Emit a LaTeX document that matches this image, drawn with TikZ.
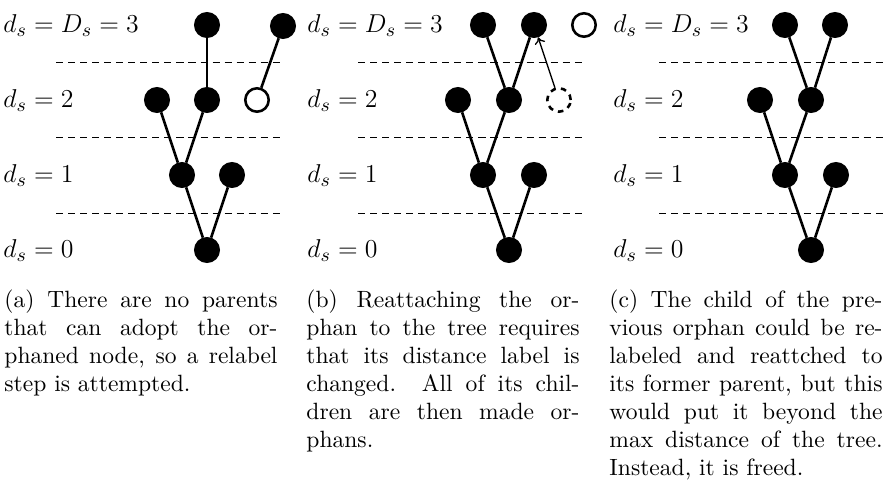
\documentclass[tikz,border=0pt]{standalone}
\usetikzlibrary{arrows.meta}
\begin{document}
\begin{tikzpicture}[x=0.465pt,y=-0.465pt,
  vtx/.style={circle,inner sep=0pt,minimum size=10.9pt,draw=black,fill=black,line width=1.2pt},
  orphan/.style={circle,inner sep=0pt,minimum size=10.9pt,draw=black,fill=white,line width=1.2pt},
  ghost/.style={circle,inner sep=0pt,minimum size=10.9pt,draw=black,line width=1.2pt,dash pattern=on 2.6pt off 2.4pt},
  treelink/.style={line width=1.2pt},
  levelline/.style={line width=0.45pt,dash pattern=on 3.3pt off 2.3pt},
  lbl/.style={anchor=base west,inner sep=0pt,font=\fontsize{13}{15}\selectfont},
  captext/.style={anchor=base west,inner sep=0pt,text width=127pt,align=justify,font=\fontsize{10.95}{13}\selectfont},
  movearrow/.style={line width=0.6pt,-{To[length=3pt,width=5pt]}}]
\useasboundingbox (0,0) rectangle (886,489);

% ---------- panel (a) ----------
\node[lbl] (la3) at (3,32.5) {$d_s=D_s=3$};
\node[lbl] (la2) at (3,107.5) {$d_s=2$};
\node[lbl] (la1) at (3,182.5) {$d_s=1$};
\node[lbl] (la0) at (3,257.5) {$d_s=0$};
\coordinate (ah1l) at (56,62); \coordinate (ah1r) at (283,62);
\coordinate (ah2l) at (56,137); \coordinate (ah2r) at (283,137);
\coordinate (ah3l) at (56,213); \coordinate (ah3r) at (283,213);
\draw[levelline] (ah1l) -- (ah1r);
\draw[levelline] (ah2l) -- (ah2r);
\draw[levelline] (ah3l) -- (ah3r);
\node[vtx] (a31) at (207,25) {};
\node[vtx] (a32) at (283,26) {};
\node[vtx] (a21) at (157,100) {};
\node[vtx] (a22) at (207,100) {};
\node[orphan] (a23) at (257,100) {};
\node[vtx] (a11) at (182,175) {};
\node[vtx] (a12) at (232,175) {};
\node[vtx] (a01) at (207,250) {};
\draw[treelink] (a31) -- (a22);
\draw[treelink] (a32) -- (a23);
\draw[treelink] (a21) -- (a11);
\draw[treelink] (a22) -- (a11);
\draw[treelink] (a11) -- (a01);
\draw[treelink] (a12) -- (a01);
\node[captext] (capa) at (4,308) {(a) There are no parents\linebreak that can adopt the or-\linebreak phaned node, so a relabel\linebreak step is attempted.};

% ---------- panel (b) ----------
\node[lbl] (lb3) at (307,32.5) {$d_s=D_s=3$};
\node[lbl] (lb2) at (307,107.5) {$d_s=2$};
\node[lbl] (lb1) at (307,182.5) {$d_s=1$};
\node[lbl] (lb0) at (307,257.5) {$d_s=0$};
\coordinate (bh1l) at (358,62); \coordinate (bh1r) at (584,62);
\coordinate (bh2l) at (358,137); \coordinate (bh2r) at (584,137);
\coordinate (bh3l) at (358,213); \coordinate (bh3r) at (584,213);
\draw[levelline] (bh1l) -- (bh1r);
\draw[levelline] (bh2l) -- (bh2r);
\draw[levelline] (bh3l) -- (bh3r);
\node[vtx] (b31) at (483,25) {};
\node[vtx] (b32) at (534,25) {};
\node[orphan] (b33) at (584,25) {};
\node[vtx] (b21) at (458,100) {};
\node[vtx] (b22) at (509,100) {};
\node[ghost] (b23) at (559,100) {};
\node[vtx] (b11) at (483,175) {};
\node[vtx] (b12) at (534,175) {};
\node[vtx] (b01) at (509,250) {};
\draw[treelink] (b31) -- (b22);
\draw[treelink] (b32) -- (b22);
\draw[treelink] (b21) -- (b11);
\draw[treelink] (b22) -- (b11);
\draw[treelink] (b11) -- (b01);
\draw[treelink] (b12) -- (b01);
\draw[movearrow] (b23) -- (b32);
\node[captext] (capb) at (306,308) {(b) Reattaching the or-\linebreak phan to the tree requires\linebreak that its distance label is\linebreak changed. All of its chil-\linebreak dren are then made or-\linebreak phans.};

% ---------- panel (c) ----------
\node[lbl] (lc3) at (613,32.5) {$d_s=D_s=3$};
\node[lbl] (lc2) at (613,107.5) {$d_s=2$};
\node[lbl] (lc1) at (613,182.5) {$d_s=1$};
\node[lbl] (lc0) at (613,257.5) {$d_s=0$};
\coordinate (ch1l) at (659,62); \coordinate (ch1r) at (886,62);
\coordinate (ch2l) at (659,137); \coordinate (ch2r) at (886,137);
\coordinate (ch3l) at (659,213); \coordinate (ch3r) at (886,213);
\draw[levelline] (ch1l) -- (ch1r);
\draw[levelline] (ch2l) -- (ch2r);
\draw[levelline] (ch3l) -- (ch3r);
\node[vtx] (c31) at (785,25) {};
\node[vtx] (c32) at (835,25) {};
\node[vtx] (c21) at (760,100) {};
\node[vtx] (c22) at (811,100) {};
\node[vtx] (c11) at (785,175) {};
\node[vtx] (c12) at (836,175) {};
\node[vtx] (c01) at (811,250) {};
\draw[treelink] (c31) -- (c22);
\draw[treelink] (c32) -- (c22);
\draw[treelink] (c21) -- (c11);
\draw[treelink] (c22) -- (c11);
\draw[treelink] (c11) -- (c01);
\draw[treelink] (c12) -- (c01);
\node[captext] (capc) at (609,308) {(c) The child of the pre-\linebreak vious orphan could be re-\linebreak labeled and reattched to\linebreak its former parent, but this\linebreak would put it beyond the\linebreak max distance of the tree.\linebreak Instead, it is freed.};
\end{tikzpicture}
\end{document}
